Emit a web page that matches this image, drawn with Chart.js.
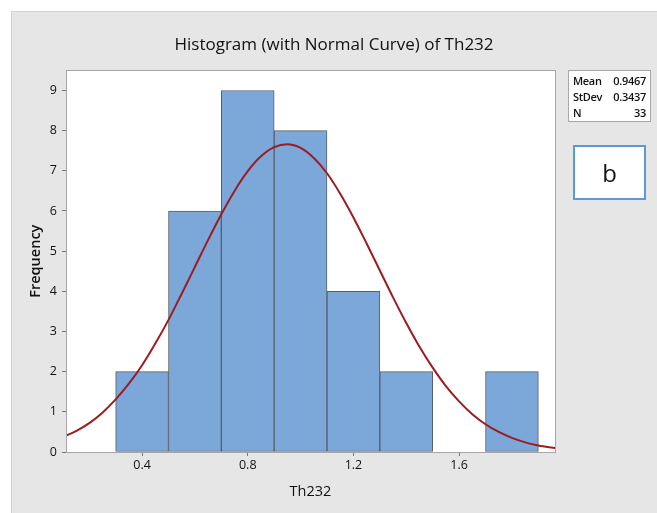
<!DOCTYPE html>
<html>
<head>
<meta charset="utf-8">
<script src="https://cdn.jsdelivr.net/npm/chart.js@4.4.0/dist/chart.umd.min.js"></script>
<style>
  html, body { margin: 0; padding: 0; background: #ffffff; }
  #wrap { position: relative; width: 657px; height: 513px; }
  canvas { position: absolute; left: 0; top: 0; }
  .stats { position: absolute; left: 568px; top: 70px; width: 81px; height: 50px; background: #fff; border: 1px solid #a8a8a8;
           font-family: "Open Sans", sans-serif; font-size: 11px; font-weight: 600; color: #111; letter-spacing: -0.3px; }
  .stats .row { position: absolute; left: 4px; right: 4px; height: 16px; line-height: 16px; }
  .stats .row span:last-child { position: absolute; right: 0; }
  .bbox { position: absolute; left: 573px; top: 145px; width: 69px; height: 51px; background: #fff; border: 2px solid #5b9bd5;
          font-family: "Open Sans", sans-serif; font-size: 24px; color: #111; text-align: center; line-height: 51px; }
</style>
</head>
<body>
<div id="wrap">
  <canvas id="c" width="657" height="513"></canvas>
  <div class="stats">
    <div class="row" style="top:2px"><span>Mean</span><span>0.9467</span></div>
    <div class="row" style="top:18px"><span>StDev</span><span>0.3437</span></div>
    <div class="row" style="top:34px"><span>N</span><span>33</span></div>
  </div>
  <div class="bbox">b</div>
</div>
<script>
// ---- data ----
const binCenters = [0.4, 0.6, 0.8, 1.0, 1.2, 1.4, 1.6, 1.8];
const binCounts  = [2, 6, 9, 8, 4, 2, 0, 2];
const curveX = [0.10, 0.15, 0.20, 0.25, 0.30, 0.35, 0.40, 0.45, 0.50, 0.55, 0.60, 0.65, 0.70, 0.75, 0.80, 0.85, 0.90, 0.95,
                1.00, 1.05, 1.10, 1.15, 1.20, 1.25, 1.30, 1.35, 1.40, 1.45, 1.50, 1.55, 1.60, 1.65, 1.70, 1.75, 1.80, 1.85, 1.90, 1.95, 2.00];
const curveY = [0.37, 0.52, 0.72, 0.98, 1.31, 1.70, 2.16, 2.70, 3.29, 3.94, 4.61, 5.28, 5.92, 6.50, 6.99, 7.36, 7.59, 7.66,
                7.57, 7.32, 6.94, 6.43, 5.84, 5.19, 4.52, 3.85, 3.21, 2.62, 2.10, 1.64, 1.26, 0.94, 0.69, 0.50, 0.35, 0.24, 0.16, 0.11, 0.07];
const xTicks = [0.4, 0.8, 1.2, 1.6];
const yTicks = [0, 1, 2, 3, 4, 5, 6, 7, 8, 9];

const FONT = '"Open Sans", sans-serif';

const bgPlugin = {
  id: 'bg',
  afterLayout(chart) {
    const t = chart.titleBlock;
    if (t) { t.left = 11; t.right = chart.width; t.width = chart.width - 11; }
  },
  beforeDraw(chart) {
    const ctx = chart.ctx, a = chart.chartArea;
    ctx.save();
    ctx.fillStyle = '#ffffff';
    ctx.fillRect(0, 0, chart.width, chart.height);
    ctx.fillStyle = '#e6e6e6';
    ctx.fillRect(11, 11, chart.width - 11, chart.height - 11);
    ctx.strokeStyle = '#d2d2d2';
    ctx.lineWidth = 1;
    ctx.beginPath();
    ctx.moveTo(11.5, chart.height); ctx.lineTo(11.5, 11.5); ctx.lineTo(chart.width, 11.5);
    ctx.stroke();
    ctx.fillStyle = '#ffffff';
    ctx.fillRect(a.left, a.top, a.right - a.left, a.bottom - a.top);
    ctx.restore();
  },
  afterDraw(chart) {
    const ctx = chart.ctx, a = chart.chartArea;
    ctx.save();
    ctx.strokeStyle = '#a6a6a6';
    ctx.lineWidth = 1;
    ctx.strokeRect(Math.round(a.left) + 0.5, Math.round(a.top) + 0.5, Math.round(a.right - a.left), Math.round(a.bottom - a.top));
    ctx.restore();
  }
};

new Chart(document.getElementById('c'), {
  data: {
    datasets: [
      {
        type: 'line',
        data: curveX.map((x, i) => ({ x: x, y: curveY[i] })),
        borderColor: '#9c1c1f',
        borderWidth: 2,
        pointRadius: 0,
        cubicInterpolationMode: 'monotone',
        fill: false,
        order: 0
      },
      {
        type: 'bar',
        data: binCenters.map((x, i) => ({ x: x, y: binCounts[i] })),
        backgroundColor: '#7ba7d9',
        borderColor: '#5a5f66',
        borderWidth: 1,
        borderSkipped: false,
        barPercentage: 1,
        categoryPercentage: 1,
        grouped: false,
        order: 1
      }
    ]
  },
  options: {
    responsive: false,
    animation: false,
    layout: { padding: { left: 23, right: 102, top: 0, bottom: 12 } },
    plugins: {
      legend: { display: false },
      tooltip: { enabled: false },
      title: {
        display: true,
        text: 'Histogram (with Normal Curve) of Th232',
        color: '#111',
        font: { family: FONT, size: 17, weight: 'normal' },
        padding: { top: 35, bottom: 15 }
      }
    },
    scales: {
      x: {
        type: 'linear',
        min: 0.112,
        max: 1.963,
        offset: false,
        afterBuildTicks(s) { s.ticks = xTicks.map(v => ({ value: v })); },
        afterFit(s) { s.height = 49; },
        grid: { offset: false, drawOnChartArea: false, drawTicks: true, tickLength: 4, tickColor: '#777' },
        border: { display: true, color: '#a6a6a6' },
        ticks: { color: '#111', font: { family: FONT, size: 12.5 }, padding: 2, maxRotation: 0,
                 callback: v => v.toFixed(1) },
        title: { display: true, text: 'Th232', color: '#111', font: { family: FONT, size: 14.5 }, padding: { top: 2, bottom: 0 } }
      },
      y: {
        type: 'linear',
        min: 0,
        max: 9.5,
        afterBuildTicks(s) { s.ticks = yTicks.map(v => ({ value: v })); },
        afterFit(s) { s.width = 43; },
        grid: { drawOnChartArea: false, drawTicks: true, tickLength: 4, tickColor: '#777' },
        border: { display: true, color: '#a6a6a6' },
        ticks: { color: '#111', font: { family: FONT, size: 12.5 }, padding: 5 },
        title: { display: true, text: 'Frequency', color: '#111', font: { family: FONT, size: 14.5, weight: '600' }, padding: { bottom: 4 } }
      }
    }
  },
  plugins: [bgPlugin]
});
</script>
</body>
</html>
